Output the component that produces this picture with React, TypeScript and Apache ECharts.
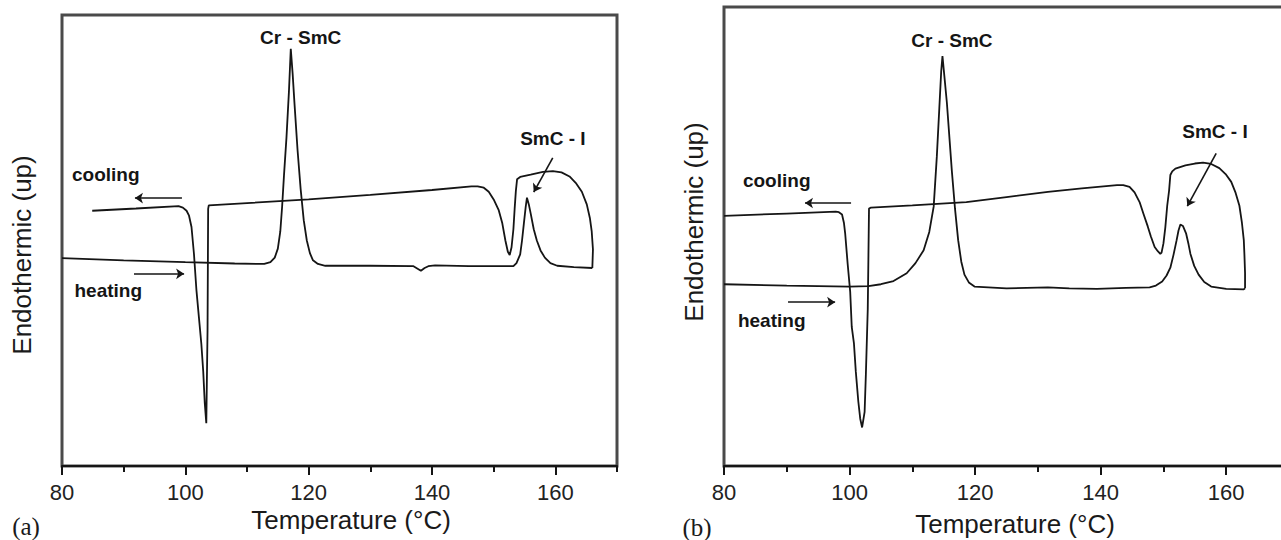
import React, { useEffect, useRef } from "react";
import * as echarts from "echarts";

// ---------- Panel (a) ----------
const aHeatT = [80, 90, 100, 108, 112.8, 113.8, 114.5, 115.0, 115.4, 115.7, 116.0, 116.4, 116.8, 117.1, 117.4, 117.7, 118.2, 118.7, 119.2, 119.7, 120.2, 120.7, 121.5, 122.7, 130, 137.0, 137.6, 138.2, 138.8, 139.4, 140.5, 146, 153.2, 153.7, 154.3, 154.6, 154.9, 155.2, 155.4, 155.7, 156.0, 156.5, 157.0, 157.6, 158.3, 159.2, 160.3, 163, 166.0];
const aHeatV = [46.1, 45.6, 45.2, 44.9, 44.8, 45.2, 46.2, 48.2, 52, 57.6, 64.5, 72.8, 83, 92.5, 87, 80.4, 70, 61.4, 54.5, 50, 47.2, 45.6, 44.8, 44.4, 44.4, 44.3, 43.8, 43.3, 43.9, 44.3, 44.5, 44.3, 44.3, 45.0, 46.9, 50, 53.8, 57.5, 59.5, 58, 56, 52.5, 50, 47.8, 46.2, 45.0, 44.4, 44.1, 43.9];
const aCoolT = [166.0, 166.1, 165.9, 165.6, 165.1, 164.3, 163.3, 162.3, 161.0, 159.6, 158.0, 156.0, 154.3, 153.8, 153.6, 153.4, 153.2, 152.9, 152.6, 152.3, 151.9, 151.4, 150.8, 150.0, 149.2, 148.4, 147.4, 146.4, 140, 130, 120, 110, 103.8, 103.7, 103.6, 103.4, 103.15, 102.9, 102.6, 102.2, 101.8, 101.4, 101.0, 100.6, 100.2, 99.6, 98.9, 92, 84.9];
const aCoolV = [43.9, 48, 52, 55, 58, 60.8, 62.8, 64.2, 65.1, 65.4, 65.2, 64.6, 64.1, 63.6, 61, 57, 52.5, 48.5, 46.8, 47.5, 50, 53.8, 56.8, 59.1, 60.8, 61.7, 62.0, 62.0, 61.2, 60.1, 59.1, 58.3, 57.8, 57.0, 30, 9.5, 14, 21, 27, 33, 39, 47, 53, 55.5, 56.6, 57.3, 57.6, 57.1, 56.6];

// ---------- Panel (b) ----------
const bHeatT = [80, 90, 100, 103, 105, 107, 109.1, 110.5, 111.8, 112.7, 113.4, 113.9, 114.3, 114.6, 114.8, 115.1, 115.5, 116.3, 116.8, 117.3, 117.8, 118.3, 119.0, 119.9, 125, 131.6, 135, 139.4, 144, 147.8, 148.8, 149.8, 150.5, 151.1, 151.6, 152.1, 152.4, 152.7, 153.1, 153.6, 154.0, 154.3, 154.9, 155.6, 156.5, 157.6, 160, 162.8, 163.0];
const bHeatV = [39.6, 39.3, 39.1, 39.2, 39.6, 40.3, 42, 44.2, 47, 51, 56.5, 67.4, 78, 86, 89.3, 85, 79.2, 64.2, 56, 49.2, 44.5, 41.7, 40, 39.1, 38.7, 38.9, 38.7, 38.6, 38.8, 38.9, 39.3, 40.2, 41.5, 43.2, 46, 49.2, 51.3, 52.6, 52.3, 50.7, 48.3, 46.2, 43.6, 41.7, 40.1, 39.1, 38.6, 38.5, 38.7];
const bCoolT = [163.0, 163.0, 162.9, 162.8, 162.5, 162.1, 161.5, 160.8, 159.9, 158.9, 157.6, 156.3, 155, 153.5, 151.9, 151.4, 151.1, 150.9, 150.6, 150.3, 150.0, 149.7, 149.5, 149.1, 148.6, 148.0, 147.5, 146.8, 146.2, 145.4, 144.6, 143.6, 142.6, 137, 131.6, 125, 118.6, 110, 103.4, 103.1, 103.0, 102.9, 102.6, 102.4, 102.0, 101.7, 101.4, 101.0, 100.7, 100.35, 100.1, 99.7, 99.3, 99.1, 98.8, 98.3, 97.8, 90, 80];
const bCoolV = [38.7, 42, 46, 49.2, 53, 56.7, 59.5, 61.9, 63.6, 64.9, 65.8, 66.1, 65.9, 65.5, 64.8, 64.2, 63.4, 60, 56.7, 52, 48.5, 46.5, 46.2, 46.8, 47.7, 50, 52.2, 55, 57.5, 59.6, 60.8, 61.2, 61.2, 60.5, 59.7, 58.6, 57.5, 56.8, 56.3, 56.1, 45, 34.2, 20, 11.8, 8.4, 10.3, 14, 20.5, 26.7, 30.3, 38, 44, 50.7, 53, 54.8, 55.3, 55.4, 55.0, 54.5];

// ---------- Annotations (data coordinates) ----------
const aLabels = [
  { text: "Cr - SmC", t: 118.7, v: 95.1 },
  { text: "SmC - I", t: 159.6, v: 72.7 },
  { text: "cooling", t: 87.1, v: 64.7 },
  { text: "heating", t: 87.5, v: 39.0 },
];
const aArrows = [
  { from: [99.45, 59.4], to: [91.83, 59.4] },
  { from: [91.67, 42.6], to: [99.8, 42.6] },
  { from: [159.58, 68.3], to: [156.5, 60.75] },
];
const bLabels = [
  { text: "Cr - SmC", t: 116.3, v: 92.6 },
  { text: "SmC - I", t: 158.2, v: 72.8 },
  { text: "cooling", t: 88.4, v: 62.3 },
  { text: "heating", t: 87.6, v: 31.6 },
];
const bArrows = [
  { from: [100.24, 57.3], to: [92.9, 57.3] },
  { from: [90.2, 35.7], to: [97.7, 35.7] },
  { from: [158.4, 68.1], to: [153.8, 56.6] },
];

const xLabelTicks = [80, 100, 120, 140, 160];

const SANS = "'Liberation Sans', Arial, Helvetica, sans-serif";
const INK = "#151515";

function zip(t: number[], v: number[]) {
  return t.map((x, i) => [x, v[i]]);
}

function labelPoints(list: { text: string; t: number; v: number }[]) {
  return list.map((l) => ({
    coord: [l.t, l.v],
    symbol: "rect",
    symbolSize: 1,
    itemStyle: { color: "rgba(0,0,0,0)" },
    label: {
      show: true,
      position: "inside",
      formatter: l.text,
      fontFamily: SANS,
      fontWeight: "bold",
      fontSize: 19,
      color: INK,
    },
  }));
}

function arrowLines(list: { from: number[]; to: number[] }[]) {
  return list.map((a) => [{ coord: a.from }, { coord: a.to }]);
}

export default function App() {
  const ref = useRef<HTMLDivElement>(null);

  useEffect(() => {
    document.body.style.margin = "0";
    const chart = echarts.init(ref.current!, null, { renderer: "svg" });

    const grids = [
      { left: 62, top: 15, width: 555, height: 451 },
      { left: 724, top: 7, width: 565, height: 459 },
    ];

    const mainX = (gi: number) => ({
      type: "value",
      gridIndex: gi,
      position: "bottom",
      min: 80,
      max: 170,
      interval: 20,
      axisLine: { show: true, onZero: false, lineStyle: { color: INK, width: 2 } },
      axisTick: { show: true, length: 9, lineStyle: { color: INK, width: 2 } },
      axisLabel: {
        show: true,
        showMaxLabel: false,
        margin: 15,
        fontSize: 22,
        fontFamily: SANS,
        color: "#222",
        formatter: (v: number) => (xLabelTicks.indexOf(v) >= 0 ? String(v) : ""),
      },
      splitLine: { show: false },
    });
    const minorX = (gi: number) => ({
      type: "value",
      gridIndex: gi,
      position: "top",
      offset: -grids[gi].height,
      min: 80,
      max: 170,
      interval: 10,
      axisLine: { show: false },
      axisTick: { show: true, inside: true, length: 6, lineStyle: { color: INK, width: 2 } },
      axisLabel: { show: false },
      splitLine: { show: false },
    });
    const yAx = (gi: number) => ({
      type: "value",
      gridIndex: gi,
      min: 0,
      max: 100,
      axisLine: { show: false },
      axisTick: { show: false },
      axisLabel: { show: false },
      splitLine: { show: false },
    });

    const curve = (gi: number, data: number[][], extra: any = {}) => ({
      type: "line",
      xAxisIndex: gi * 2,
      yAxisIndex: gi,
      data,
      showSymbol: false,
      symbol: "none",
      smooth: false,
      lineStyle: { color: INK, width: 1.8 },
      emphasis: { disabled: true },
      z: 3,
      ...extra,
    });

    const arrowMark = (list: { from: number[]; to: number[] }[]) => ({
      silent: true,
      symbol: ["none", "arrow"],
      symbolSize: 8,
      lineStyle: { color: INK, width: 1.6, type: "solid" },
      label: { show: false },
      emphasis: { disabled: true },
      data: arrowLines(list),
    });

    const textStyle = (text: string, font: string) => ({
      text,
      font,
      fill: "#1a1a1a",
      textAlign: "center",
      textVerticalAlign: "middle",
      align: "center",
      verticalAlign: "middle",
    });

    const option: any = {
      animation: false,
      backgroundColor: "#ffffff",
      grid: grids.map((g) => ({
        ...g,
        show: true,
        borderColor: "#4a4a4a",
        borderWidth: 3,
        backgroundColor: "rgba(0,0,0,0)",
        containLabel: false,
        outerBoundsMode: "none",
      })),
      xAxis: [mainX(0), minorX(0), mainX(1), minorX(1)],
      yAxis: [yAx(0), yAx(1)],
      series: [
        curve(0, zip(aHeatT, aHeatV), {
          markPoint: { silent: true, data: labelPoints(aLabels) },
        }),
        curve(0, zip(aCoolT, aCoolV), { markLine: arrowMark(aArrows) }),
        curve(1, zip(bHeatT, bHeatV), {
          markPoint: { silent: true, data: labelPoints(bLabels) },
        }),
        curve(1, zip(bCoolT, bCoolV), { markLine: arrowMark(bArrows) }),
      ],
      graphic: [
        { type: "text", x: 21.5, y: 255, rotation: Math.PI / 2, style: textStyle("Endothermic (up)", `26px ${SANS}`) },
        { type: "text", x: 694, y: 222, rotation: Math.PI / 2, style: textStyle("Endothermic (up)", `26px ${SANS}`) },
        { type: "text", x: 351, y: 520, style: textStyle("Temperature (°C)", `26px ${SANS}`) },
        { type: "text", x: 1015, y: 524, style: textStyle("Temperature (°C)", `26px ${SANS}`) },
        { type: "text", x: 26, y: 526, style: textStyle("(a)", `25px 'Liberation Serif', 'DejaVu Serif', serif`) },
        { type: "text", x: 697, y: 527, style: textStyle("(b)", `25px 'Liberation Serif', 'DejaVu Serif', serif`) },
      ],
    };

    chart.setOption(option);
    return () => chart.dispose();
  }, []);

  return <div ref={ref} style={{ width: 1281, height: 540 }} />;
}
